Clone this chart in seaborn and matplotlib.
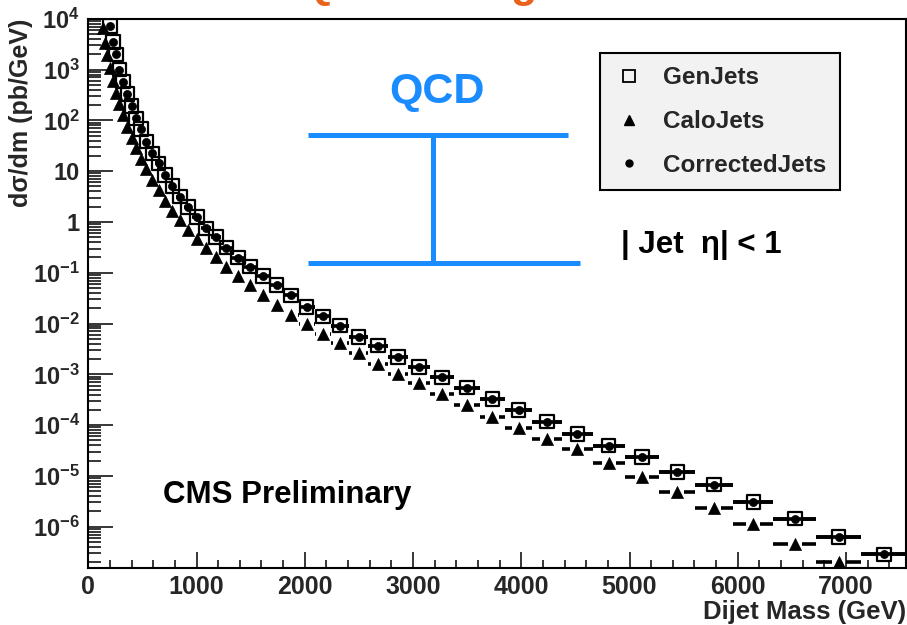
import numpy as np
import pandas as pd
import matplotlib
matplotlib.use("Agg")
import matplotlib.pyplot as plt
import seaborn as sns
from matplotlib.lines import Line2D
from matplotlib.ticker import MultipleLocator, LogLocator, FuncFormatter, NullFormatter

nan = np.nan

# ---------------- data ----------------
# Dijet mass bin edges (GeV)
mass_edges = [122, 143, 165, 188, 212, 240, 270, 304, 342, 380,
              420, 462, 510, 565, 620, 678, 742, 810, 880, 960,
              1045, 1132, 1225, 1325, 1440, 1550, 1675, 1805, 1945, 2090,
              2245, 2410, 2585, 2765, 2955, 3160, 3380, 3615, 3850, 4100,
              4375, 4660, 4955, 5276, 5607, 5958, 6330, 6726, 7139, 7560]

# d sigma / dm  (pb/GeV)
gen_xsec = [nan, nan, nan, 7.2e3, 3.5e3, 2.0e3, 1.0e3, 5.8e2, 3.3e2, 1.9e2,
            1.1e2, 67, 38, 22.5, 14.3, 8.4, 5.1, 3.14, 1.95, 1.24,
            0.75, 0.50, 0.311, 0.198, 0.132, 0.0863, 0.0574, 0.0359, 0.0212, 0.0139,
            9.1e-3, 5.5e-3, 3.66e-3, 2.22e-3, 1.41e-3, 8.75e-4, 5.46e-4, 3.27e-4, 1.99e-4, 1.17e-4,
            6.64e-5, 3.94e-5, 2.36e-5, 1.19e-5, 6.71e-6, 3.06e-6, 1.44e-6, 6.27e-7, 2.86e-7]

calo_xsec = [6.5e3, 3.4e3, 1.9e3, 1.06e3, 587, 346, 210, 128, 75.7, 46.0,
             28.6, 17.7, 11.0, 6.85, 4.26, 2.64, 1.68, 1.09, 0.710, 0.461,
             0.303, 0.200, 0.132, 0.0863, 0.0566, 0.0365, 0.0229, 0.0147, 9.66e-3, 6.22e-3,
             4.08e-3, 2.59e-3, 1.60e-3, 1.00e-3, 6.84e-4, 4.05e-4, 2.49e-4, 1.47e-4, 8.65e-5, 5.26e-5,
             3.39e-5, 1.77e-5, 9.40e-6, 4.75e-6, 2.30e-6, 1.11e-6, 4.50e-7, 2.05e-7, nan]

corr_xsec = [nan, nan, nan, 7.2e3, 3.5e3, 2.0e3, 1.0e3, 5.8e2, 3.3e2, 1.9e2,
             1.1e2, 67, 38, 22.5, 14.3, 8.4, 5.1, 3.14, 1.95, 1.24,
             0.75, 0.50, 0.311, 0.198, 0.132, 0.0863, 0.0574, 0.0359, 0.0212, 0.0139,
             9.1e-3, 5.5e-3, 3.66e-3, 2.22e-3, 1.41e-3, 8.75e-4, 5.46e-4, 3.27e-4, 1.99e-4, 1.17e-4,
             6.64e-5, 3.94e-5, 2.36e-5, 1.19e-5, 6.71e-6, 3.06e-6, 1.44e-6, 6.27e-7, 2.86e-7]

series_labels = ["GenJets", "CaloJets", "CorrectedJets"]
x_ticks = [0, 1000, 2000, 3000, 4000, 5000, 6000, 7000]
x_range = (0, 7557)
y_range = (1.56e-7, 1e4)

# ---------------- style ----------------
sns.set_theme(style="ticks")
plt.rcParams["font.family"] = ["Liberation Sans", "DejaVu Sans"]
plt.rcParams["font.weight"] = "bold"
plt.rcParams["mathtext.fontset"] = "custom"
plt.rcParams["mathtext.rm"] = "Liberation Sans:bold"
plt.rcParams["mathtext.bf"] = "Liberation Sans:bold"
plt.rcParams["mathtext.it"] = "Liberation Sans:bold"
plt.rcParams["mathtext.default"] = "bf"
plt.rcParams["axes.linewidth"] = 1.5

W, H = 907, 625
fig = plt.figure(figsize=(W / 100, H / 100), dpi=100)
fig.patch.set_facecolor("white")
ax_left, ax_right, ax_top, ax_bot = 88.3, 906.3, 18.8, 567.7
ax = fig.add_axes([ax_left / W, 1 - ax_bot / H, (ax_right - ax_left) / W, (ax_bot - ax_top) / H])
ax.set_facecolor("white")
ax.set_yscale("log")
ax.set_xlim(*x_range)
ax.set_ylim(*y_range)

edges = np.array(mass_edges, dtype=float)
df = pd.DataFrame({
    "lo": edges[:-1],
    "hi": edges[1:],
    "mass": 0.5 * (edges[:-1] + edges[1:]),
    "gen": gen_xsec,
    "calo": calo_xsec,
    "corr": corr_xsec,
})

px_per_gev = (ax_right - ax_left) / (x_range[1] - x_range[0])


def bin_bars(col, gap_px, lw):
    d = df.dropna(subset=[col])
    g = gap_px / px_per_gev
    left_end = d["mass"] - g
    right_start = d["mass"] + g
    m = left_end > d["lo"]
    ax.hlines(d.loc[m, col], d.loc[m, "lo"], left_end[m], color="black", lw=lw, zorder=2)
    m = right_start < d["hi"]
    ax.hlines(d.loc[m, col], right_start[m], d.loc[m, "hi"], color="black", lw=lw, zorder=2)


bar_lw = 2.6
bin_bars("gen", 7.5, bar_lw)
bin_bars("calo", 7.0, bar_lw)
bin_bars("corr", 3.0, bar_lw)

sns.scatterplot(data=df, x="mass", y="gen", marker="s", s=95,
                facecolor="none", edgecolor="black", linewidth=1.6,
                ax=ax, zorder=3, legend=False)
sns.scatterplot(data=df, x="mass", y="calo", marker="^", s=75, color="black",
                edgecolor="black", linewidth=0.5, ax=ax, zorder=3, legend=False)
sns.scatterplot(data=df, x="mass", y="corr", marker="o", s=34, color="black",
                edgecolor="black", linewidth=0.5, ax=ax, zorder=4, legend=False)

# ---------------- axes ----------------
ax.set_xticks(x_ticks)
ax.set_xticklabels([str(t) for t in x_ticks])
ax.xaxis.set_minor_locator(MultipleLocator(200))
ax.yaxis.set_major_locator(LogLocator(base=10, numticks=20))
ax.yaxis.set_minor_locator(LogLocator(base=10, subs=np.arange(2, 10), numticks=200))


def yfmt(v, pos):
    e = int(round(np.log10(v)))
    if e == 0:
        return "1"
    if e == 1:
        return "10"
    return r"$10^{%d}$" % e


ax.yaxis.set_major_formatter(FuncFormatter(yfmt))
ax.yaxis.set_minor_formatter(NullFormatter())
ax.tick_params(axis="x", which="major", direction="in", length=11.5, width=1.3,
               labelsize=18, pad=5, top=False)
ax.tick_params(axis="x", which="minor", direction="in", length=5.8, width=1.3, top=False)
ax.tick_params(axis="y", which="major", direction="in", length=18, width=1.3,
               labelsize=17, pad=6, right=False)
ax.tick_params(axis="y", which="minor", direction="in", length=9, width=1.3, right=False)
for sp in ax.spines.values():
    sp.set_visible(True)
    sp.set_linewidth(1.5)
    sp.set_color("black")

ax.set_xlabel("Dijet Mass (GeV)", loc="right", fontsize=18.5, fontweight="bold", labelpad=1)
ax.set_ylabel("d\u03c3/dm (pb/GeV)", loc="top", fontsize=18, fontweight="bold")
ax.yaxis.set_label_coords((33 - ax_left) / (ax_right - ax_left), 1.0)

# ---------------- legend ----------------
handles = [
    Line2D([], [], ls="none", marker="s", ms=9, mfc="none", mec="black", mew=1.3, label=series_labels[0]),
    Line2D([], [], ls="none", marker="^", ms=7, mfc="black", mec="black", label=series_labels[1]),
    Line2D([], [], ls="none", marker="o", ms=5, mfc="black", mec="black", label=series_labels[2]),
]
leg = ax.legend(handles=handles, loc="upper left", bbox_to_anchor=(600 / W, 1 - 53 / H),
                bbox_transform=fig.transFigure, frameon=True, fancybox=False, shadow=False,
                facecolor="#f2f2f2", edgecolor="black", framealpha=1, borderaxespad=0,
                borderpad=0.55, handlelength=1.3, handletextpad=0.75, labelspacing=0.85,
                prop={"family": "Liberation Sans", "weight": "bold", "size": 17.5})
leg.get_frame().set_linewidth(1.5)

# ---------------- annotations ----------------
blue = "#1a8cff"


def fx(px):
    return px / W


def fy(py):
    return 1 - py / H


for (x0, y0, x1, y1) in [(308, 135, 568, 135), (308, 263, 580, 263), (433, 135, 433, 263)]:
    fig.add_artist(Line2D([fx(x0), fx(x1)], [fy(y0), fy(y1)], transform=fig.transFigure,
                          color=blue, lw=3.6, solid_capstyle="butt"))

fig.text(fx(437), fy(92), "QCD", color=blue, fontsize=31, fontweight="bold", ha="center", va="center")
fig.text(fx(621), fy(245), "| Jet  \u03b7| < 1", color="black", fontsize=22.5, fontweight="bold",
         ha="left", va="center")
fig.text(fx(163), fy(495), "CMS Preliminary", color="black", fontsize=22.5, fontweight="bold",
         ha="left", va="center")
# page title, cut off by the top edge in the reference screenshot
fig.text(fx(480), fy(-3), "QCD Background", color="#e8641c", fontsize=31, fontweight="bold",
         ha="center", va="baseline")

fig.savefig("out.png", dpi=100, facecolor="white")
